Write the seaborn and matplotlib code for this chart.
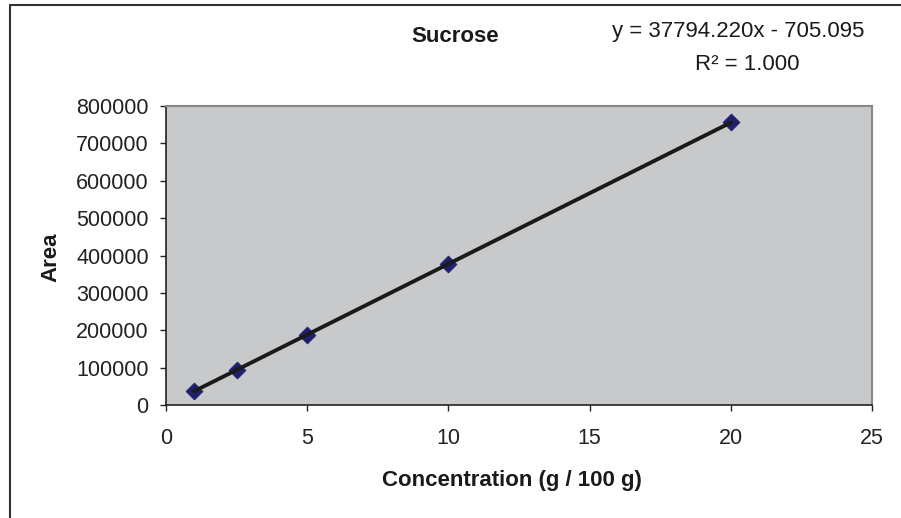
import matplotlib
matplotlib.use("Agg")
import matplotlib.pyplot as plt
from matplotlib.lines import Line2D
import seaborn as sns
import numpy as np

# Data
concentration = [1, 2.5, 5, 10, 20]
area = [37500, 93800, 188000, 377000, 756000]
x_ticks = [0, 5, 10, 15, 20, 25]
y_ticks = [0, 100000, 200000, 300000, 400000, 500000, 600000, 700000, 800000]
title = "Sucrose"
equation = "y = 37794.220x - 705.095"
r2_text = "R² = 1.000"
x_label = "Concentration (g / 100 g)"
y_label = "Area"

sns.set_style("white")
plt.rcParams['font.family'] = ['Liberation Sans', 'DejaVu Sans']

W, H = 901, 518
fig = plt.figure(figsize=(W / 100, H / 100), dpi=100)
ax = fig.add_axes([166 / W, 1 - 405 / H, (872 - 166) / W, (405 - 106) / H])
ax.set_facecolor('#C8C9CB')

sns.regplot(x=concentration, y=area, ax=ax, ci=None, marker='D',
            scatter_kws=dict(s=75, color='#1f1f6e', edgecolors='#1f1f6e', linewidths=0.5,
                             alpha=1, zorder=2),
            line_kws=dict(color='#1a1a1a', lw=2.8, zorder=3))

ax.set_xlim(0, 25)
ax.set_ylim(0, 800000)
ax.set_xticks(x_ticks)
ax.set_yticks(y_ticks)
ax.set_xticklabels([str(v) for v in x_ticks])
ax.set_yticklabels([str(v) for v in y_ticks])
ax.tick_params(axis='both', direction='out', length=4.5, width=1, color='#222222',
               labelsize=15.5, labelcolor='#222222')
ax.tick_params(axis='y', pad=8, left=True)
ax.tick_params(axis='x', pad=12, bottom=True)

for side in ['left', 'bottom']:
    ax.spines[side].set_color('#222222')
    ax.spines[side].set_linewidth(1.2)
for side in ['top', 'right']:
    ax.spines[side].set_color('#888888')
    ax.spines[side].set_linewidth(1.5)
ax.grid(False)

ax.set_xlabel("")
ax.set_ylabel("")
fig.text(512 / W, 1 - 486 / H, x_label, ha='center', va='baseline',
         fontsize=16, fontweight='bold', color='#1a1a1a')
fig.text(51 / W, 1 - 257 / H, y_label, ha='center', va='center', rotation=90,
         fontsize=16, fontweight='bold', color='#1a1a1a')
fig.text(455 / W, 1 - 42 / H, title, ha='center', va='baseline',
         fontsize=16, fontweight='bold', color='#1a1a1a')
fig.text(738 / W, 1 - 37 / H, equation, ha='center', va='baseline',
         fontsize=16, color='#1a1a1a')
fig.text(747 / W, 1 - 70 / H, r2_text, ha='center', va='baseline',
         fontsize=16, color='#1a1a1a')

# figure frame (top and left edges)
fig.add_artist(Line2D([10 / W, 1.0], [1 - 5 / H, 1 - 5 / H], transform=fig.transFigure,
                      color='#333333', lw=1.5))
fig.add_artist(Line2D([10 / W, 10 / W], [0, 1 - 5 / H], transform=fig.transFigure,
                      color='#333333', lw=1.5))

fig.savefig("out.png", dpi=100)
